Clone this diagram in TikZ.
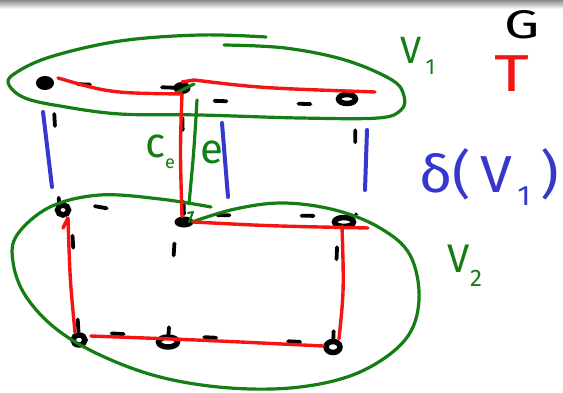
\documentclass[tikz,border=0pt]{standalone}
\usepackage{fontspec}
\setmainfont{Fira Sans}
\usetikzlibrary{shapes.geometric}
\definecolor{pgreen}{RGB}{20,125,20}
\definecolor{pred}{RGB}{245,20,20}
\definecolor{pblue}{RGB}{55,55,205}
\tikzset{
  pen/.style={line width=3.4pt,line cap=round,line join=round},
  vfill/.style={ellipse,draw,fill=black,line width=2pt,minimum width=15pt,minimum height=10pt,inner sep=0pt},
  vopen/.style={ellipse,draw,line width=5.5pt,minimum width=17pt,minimum height=9pt,inner sep=0pt},
  dsh/.style={line width=3.8pt,line cap=round,black,dash pattern=on 12pt off 72pt,dash phase=-24pt},
  tree/.style={pen,pred},
  cut/.style={pen,pblue,line width=4pt},
  region/.style={pen,pgreen,line width=3.2pt},
  lab/.style={inner sep=0pt,anchor=center}
}
\begin{document}
\begin{tikzpicture}[x=1pt,y=-1pt]
\useasboundingbox (0,0) rectangle (563,393);
\fill[white] (0,0) rectangle (563,393);
\shade[top color=black!45,bottom color=white] (0,0) rectangle (563,9);

% vertices
\node[vfill,minimum width=16pt,minimum height=12pt] (A) at (45,83) {};
\node[vfill] (B) at (182,88) {};
\node[vopen] (C) at (347,99) {};
\node[vopen,minimum width=11pt,minimum height=10pt] (D) at (63,210) {};
\node[vfill,minimum width=17pt,minimum height=9pt] (E) at (184,222) {};
\node[vopen,minimum width=19pt] (F) at (344,222) {};
\node[vopen,minimum width=12pt,minimum height=10pt] (G) at (79,340) {};
\node[vopen,minimum width=19pt,minimum height=10pt] (H) at (168,342) {};
\node[vopen,minimum width=14pt,minimum height=11pt] (I) at (333,347) {};

% graph G: dashed edges
\draw[dsh] (A) -- (B);
\draw[dsh] ([yshift=-12pt]B.east) -- ([yshift=-6pt]C.west) -- (C);
\draw[dsh] ([xshift=8pt]A.south) -- ([xshift=-4pt]D.north);
\draw[dsh] (B) -- (E);
\draw[dsh] ([xshift=8pt]C.south) -- ([xshift=12pt]F.north);
\draw[dsh] ([yshift=8pt]D.east) -- (E);
\draw[dsh] ([yshift=7pt]E.east) -- ([yshift=6pt]F.west);
\draw[dsh] ([xshift=8pt,yshift=6pt]D.south) -- (G);
\draw[dsh] ([xshift=-8pt,yshift=8pt]E.south) -- (H);
\draw[dsh] ([xshift=-6pt,yshift=6pt]F.south) -- (I);
\draw[dsh] ([yshift=8pt]G.east) -- ([yshift=6pt]H.west);
\draw[dsh] ([yshift=6pt]H.east) -- ([yshift=4pt]I.west);

% cut delta(V1)
\draw[cut] (43,112) -- (52,187);
\draw[cut] (222,123) -- (228,197);
\draw[cut] (367,130) -- (365,190);

% region V1
\draw[region] plot[smooth,tension=0.6] coordinates {(266,37) (200,35) (120,41) (50,57) (14,74) (9,85) (25,98) (60,106) (120,114) (200,115) (300,118) (378,118) (401,110) (404,96) (392,80) (345,60) (285,48) (224,45)};
% region V2
\draw[region] plot[smooth,tension=0.6] coordinates {(211,207) (160,199) (100,195) (50,207) (17,235) (13,262) (25,295) (55,328) (100,355) (160,377) (230,388) (300,387) (360,372) (405,340) (419,300) (410,255) (380,228) (335,210) (283,203) (235,209) (192,222)};

% chosen edge e
\draw[region] (197,100) .. controls (194,150) .. (189,204);
\draw[region] (176,93) -- (194,84);
\draw[region,line width=2pt] (188,213) -- (193,212) -- (189,222);

% spanning tree T
\draw[tree] ([xshift=4pt,yshift=5pt]A.east) .. controls (110,93) .. (B.south);
\draw[tree] (B.north) -- ([xshift=12pt,yshift=2pt]B.north) .. controls (260,88) .. (375,92);
\draw[tree] (B.south) .. controls (180,150) .. ([xshift=-2pt]E.north);
\draw[tree] (E.east) .. controls (270,226) .. (368,228);
\draw[tree] ([xshift=-2pt,yshift=3pt]F.south) .. controls (344,290) .. ([xshift=6pt]I.north);
\draw[tree] ([xshift=3pt,yshift=4pt]G.east) .. controls (200,340) .. ([yshift=1pt]I.west);
\draw[tree] ([xshift=-4pt]G.north) .. controls (70,280) .. (68,218) -- (63,228);

% labels
\node[lab,pgreen,font=\fontsize{42}{42}\selectfont] (ce) at (160,152) {c\raisebox{-0.25em}{\fontsize{18}{18}\selectfont e}};
\node[lab,pgreen,font=\fontsize{42}{42}\selectfont] (el) at (212,152) {e};
\node[lab,pgreen,font=\fontsize{38}{38}\selectfont] (V1) at (418,56) {V\raisebox{-0.3em}{\fontsize{22}{22}\selectfont\,1}};
\node[lab,black,font=\fontsize{40}{40}\selectfont] (Gl) at (522,25) {\scalebox{1.4}[1]{G}};
\node[lab,pred,font=\fontsize{52}{52}\selectfont] (Tl) at (512,74) {\scalebox{1.3}[1]{T}};
\node[lab,pblue,font=\fontsize{52}{52}\selectfont] (dl) at (489,177) {\scalebox{1.1}[1]{δ(\,V\raisebox{-0.25em}{\fontsize{28}{28}\selectfont\,1}\,)}};
\node[lab,pgreen,font=\fontsize{40}{40}\selectfont] (V2) at (465,266) {V\raisebox{-0.35em}{\fontsize{24}{24}\selectfont 2}};
\end{tikzpicture}
\end{document}
